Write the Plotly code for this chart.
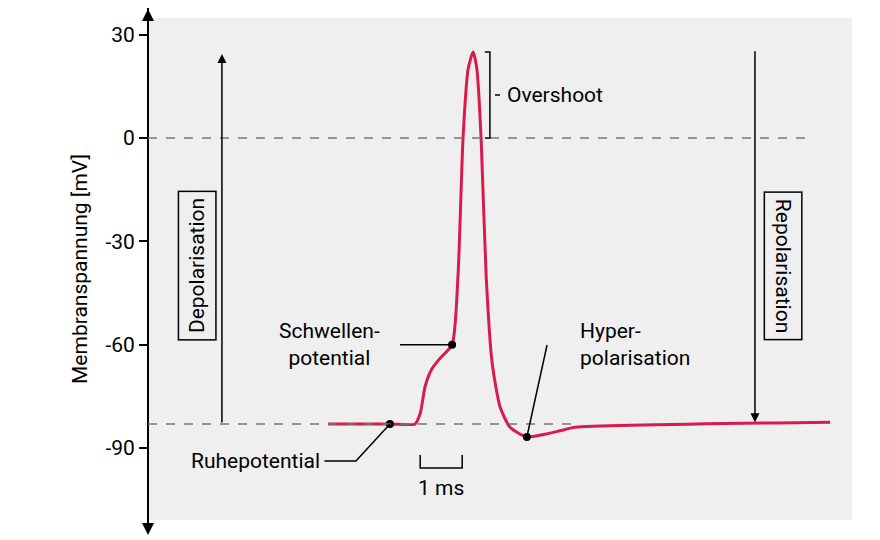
import plotly.graph_objects as go

# action potential trace (time in ms, voltage in mV)
t_ms = [4.29, 5.76, 6.36, 6.48, 6.60, 6.76, 6.95, 7.24, 7.38, 7.50, 7.62, 7.74, 7.83,
        7.93, 8.05, 8.19, 8.38, 8.62, 9.02, 9.45, 9.81, 10.17, 16.24]
v_mv = [-83, -83, -83, -80, -72, -67, -64, -60, -40, 0, 20, 25, 20,
        0, -40, -65, -78, -84, -86.8, -86, -85, -84, -82.5]

marker_t = [5.76, 7.24, 9.02]
marker_v = [-83, -60, -86.8]

y_ticks = [30, 0, -30, -60, -90]
rest = -83

font = dict(family="Roboto", size=21, color="black")
red = "#d81b4a"

fig = go.Figure()
fig.add_trace(go.Scatter(x=t_ms, y=v_mv, mode="lines", line=dict(color=red, width=3, shape="spline", smoothing=0.6)))
fig.add_trace(go.Scatter(x=marker_t, y=marker_v, mode="markers", marker=dict(color="black", size=8)))

shapes = [
    # y axis line beyond plot area
    dict(type="line", xref="paper", yref="paper", x0=0, x1=0, y0=-0.02, y1=1.02, line=dict(color="black", width=2)),
    dict(type="line", x0=0, x1=15.8, y0=0, y1=0, line=dict(color="#777", width=1.5, dash="dash")),
    dict(type="line", x0=0, x1=10.17, y0=rest, y1=rest, line=dict(color="#777", width=1.5, dash="dash")),
    # overshoot bracket
    dict(type="path", path="M 8.02 25 L 8.14 25 L 8.14 0 L 8.02 0", line=dict(color="black", width=1.5)),
    dict(type="line", x0=8.26, x1=8.38, y0=12.5, y1=12.5, line=dict(color="black", width=1.5)),
    # leader lines
    dict(type="path", path="M 4.2 -93.8 L 4.95 -93.8 L 5.76 -83", line=dict(color="black", width=1.5)),
    dict(type="line", x0=6.0, x1=7.24, y0=-60, y1=-60, line=dict(color="black", width=1.5)),
    dict(type="line", x0=9.5, x1=9.02, y0=-60.1, y1=-86.8, line=dict(color="black", width=1.5)),
    # scale bar
    dict(type="path", path="M 6.48 -92 L 6.48 -95.8 L 7.48 -95.8 L 7.48 -92", line=dict(color="black", width=1.5)),
]

arrow = dict(showarrow=True, arrowhead=2, arrowsize=1.2, arrowwidth=1.5, arrowcolor="black",
             axref="x", ayref="y", text="")
paper_arrow = dict(showarrow=True, arrowhead=2, arrowsize=1.2, arrowwidth=2, arrowcolor="black",
                   xref="paper", yref="paper", text="", ax=0)
annotations = [
    dict(x=0, y=1.03, ay=12, **paper_arrow),
    dict(x=0, y=-0.03, ay=-12, **paper_arrow),
    dict(x=1.76, y=24.4, ax=1.76, ay=rest, **arrow),
    dict(x=14.45, y=-82.5, ax=14.45, ay=25.6, **arrow),
    dict(x=1.17, y=-37, text="Depolarisation", textangle=-90, showarrow=False, font=font,
         bordercolor="black", borderwidth=1.5, borderpad=6),
    dict(x=15.12, y=-37, text="Repolarisation", textangle=90, showarrow=False, font=font,
         bordercolor="black", borderwidth=1.5, borderpad=6),
    dict(x=8.5, y=12.5, text="Overshoot", xanchor="left", showarrow=False, font=font),
    dict(x=4.14, y=-93.8, text="Ruhepotential", xanchor="right", showarrow=False, font=font),
    dict(x=4.33, y=-60, text="Schwellen-<br>potential", showarrow=False, font=font, align="center"),
    dict(x=10.24, y=-60, text="Hyper-<br>polarisation", xanchor="left", showarrow=False, font=font, align="left"),
    dict(x=6.98, y=-101.5, text="1 ms", showarrow=False, font=font),
]

fig.update_layout(
    width=880, height=540, showlegend=False,
    paper_bgcolor="white", plot_bgcolor="#efefef",
    margin=dict(l=140, r=36, t=10, b=28),
    xaxis=dict(range=[0, 16.76], showticklabels=False, showgrid=False, zeroline=False, ticks=""),
    yaxis=dict(range=[-110.9, 34.85], tickvals=y_ticks, ticktext=[str(v) for v in y_ticks],
               ticks="outside", ticklen=8, tickcolor="black", tickwidth=1.5,
               showgrid=False, zeroline=False, tickfont=font,
               title=dict(text="Membranspannung [mV]", font=font, standoff=12)),
    shapes=shapes, annotations=annotations,
)

fig.write_html("out.html")
